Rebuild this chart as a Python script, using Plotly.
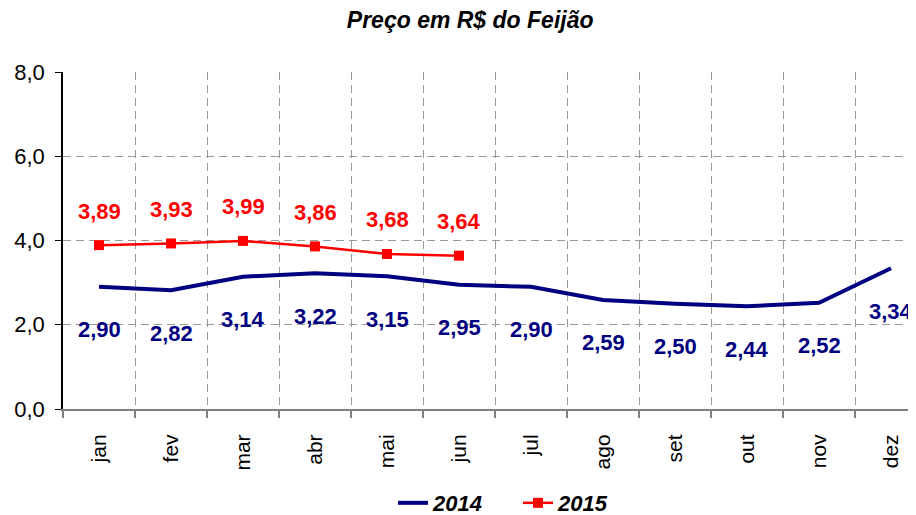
import plotly.graph_objects as go

months = ["jan", "fev", "mar", "abr", "mai", "jun", "jul", "ago", "set", "out", "nov", "dez"]
v2014 = [2.90, 2.82, 3.14, 3.22, 3.15, 2.95, 2.90, 2.59, 2.50, 2.44, 2.52, 3.34]
months2015 = ["jan", "fev", "mar", "abr", "mai", "jun"]
v2015 = [3.89, 3.93, 3.99, 3.86, 3.68, 3.64]
yticks = [0, 2, 4, 6, 8]
ytick_text = ["0,0", "2,0", "4,0", "6,0", "8,0"]

def fmt(v):
    return f"{v:.2f}".replace(".", ",")

NAVY = "#000080"
RED = "#FF0000"
FONT = "Liberation Sans, Arial, sans-serif"

fig = go.Figure()
fig.add_trace(go.Scatter(x=months, y=v2014, mode="lines", name="2014",
                         line=dict(color=NAVY, width=4)))
fig.add_trace(go.Scatter(x=months2015, y=v2015, mode="lines+markers", name="2015",
                         line=dict(color=RED, width=2.5),
                         marker=dict(symbol="square", size=10, color=RED)))

ann = []
for m, v in zip(months, v2014):
    ann.append(dict(x=m, y=v, text=fmt(v), showarrow=False, yshift=-43,
                    font=dict(family=FONT, size=22, color=NAVY, weight="bold")))
for m, v in zip(months2015, v2015):
    ann.append(dict(x=m, y=v, text=fmt(v), showarrow=False, yshift=34,
                    font=dict(family=FONT, size=22, color=RED, weight="bold")))

# page body has an 8px margin, so the figure is drawn 8px right/down
fig.update_layout(
    width=908, height=507,
    margin=dict(l=55, r=0, t=64, b=106, autoexpand=False),
    paper_bgcolor="white", plot_bgcolor="white",
    title=dict(text="Preço em R$ do Feijão", x=0.509, xanchor="center",
               y=0.976, yanchor="middle", yref="container",
               font=dict(family=FONT, size=23, color="black", weight="bold", style="italic")),
    font=dict(family=FONT, size=22, color="black"),
    showlegend=True,
    legend=dict(orientation="h", x=(385 - 55) / 853, xanchor="left", y=-0.279, yanchor="middle",
                entrywidth=80,
                font=dict(family=FONT, size=22, color="black", weight="bold", style="italic")),
    annotations=ann,
)
fig.update_xaxes(
    type="category", categoryorder="array", categoryarray=months,
    range=[-0.5, 11.347], tickson="boundaries", automargin=False,
    showgrid=True, gridcolor="#999999", griddash="8px,5px", gridwidth=1,
    showline=True, linecolor="#808080", linewidth=2,
    ticks="outside", ticklen=7, tickcolor="#808080", tickwidth=1.5,
    tickangle=-90, tickfont=dict(family=FONT, size=21, color="black"),
    ticklabelstandoff=15, zeroline=False,
)
fig.update_yaxes(
    range=[0, 8], tickvals=yticks, ticktext=ytick_text, automargin=False,
    showgrid=True, gridcolor="#999999", griddash="8px,5px", gridwidth=1,
    showline=True, linecolor="black", linewidth=1.5,
    ticks="outside", ticklen=6, tickcolor="black",
    tickfont=dict(family=FONT, size=22, color="black"),
    ticklabelstandoff=6, zeroline=False,
)

fig.write_html("out.html")
